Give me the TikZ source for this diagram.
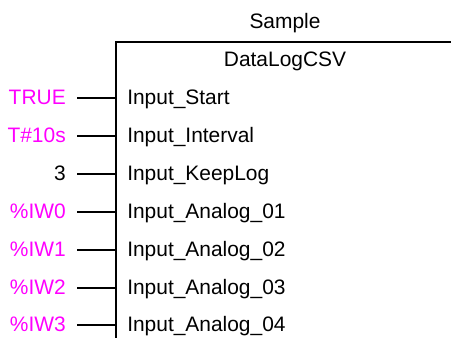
\documentclass[tikz,border=0pt]{standalone}
\usepackage{fontspec}
\setmainfont{Liberation Sans}
\definecolor{valmag}{HTML}{FF00FF}
\begin{document}
\begin{tikzpicture}[x=0.75pt,y=-0.75pt,
  txt/.style={inner sep=0pt,font=\fontsize{15.7}{18}\selectfont},
  pinlabel/.style={txt,anchor=base west},
  valuelabel/.style={txt,anchor=base east,text=valmag},
  plainvalue/.style={txt,anchor=base east,text=black},
  stub/.style={line width=1.5pt},
  fbbox/.style={line width=1.6pt}]
\useasboundingbox (0,0) rectangle (451,338);
\clip (0,0) rectangle (451,338);
\draw[fbbox] (116,360) -- (116,42) coordinate (tl) -- (470,42);
\node[txt,anchor=base] (inst) at (285,29) {Sample};
\node[txt,anchor=base] (type) at (285,67) {DataLogCSV};
\foreach \i/\y/\pin/\val/\st in {
  1/98/Input\_Start/TRUE/valuelabel,
  2/136/Input\_Interval/T\#10s/valuelabel,
  3/174/Input\_KeepLog/3/plainvalue,
  4/212/Input\_Analog\_01/\%IW0/valuelabel,
  5/250/Input\_Analog\_02/\%IW1/valuelabel,
  6/288/Input\_Analog\_03/\%IW2/valuelabel,
  7/325/Input\_Analog\_04/\%IW3/valuelabel}{
  \node[pinlabel] (p\i) at (127,\y+7) {\pin};
  \node[\st] (v\i) at (66,\y+7) {\val};
  \coordinate (s\i) at (77,\y);
  \coordinate (e\i) at (116,\y);
  \draw[stub] (s\i) -- (e\i);
}
\end{tikzpicture}
\end{document}
